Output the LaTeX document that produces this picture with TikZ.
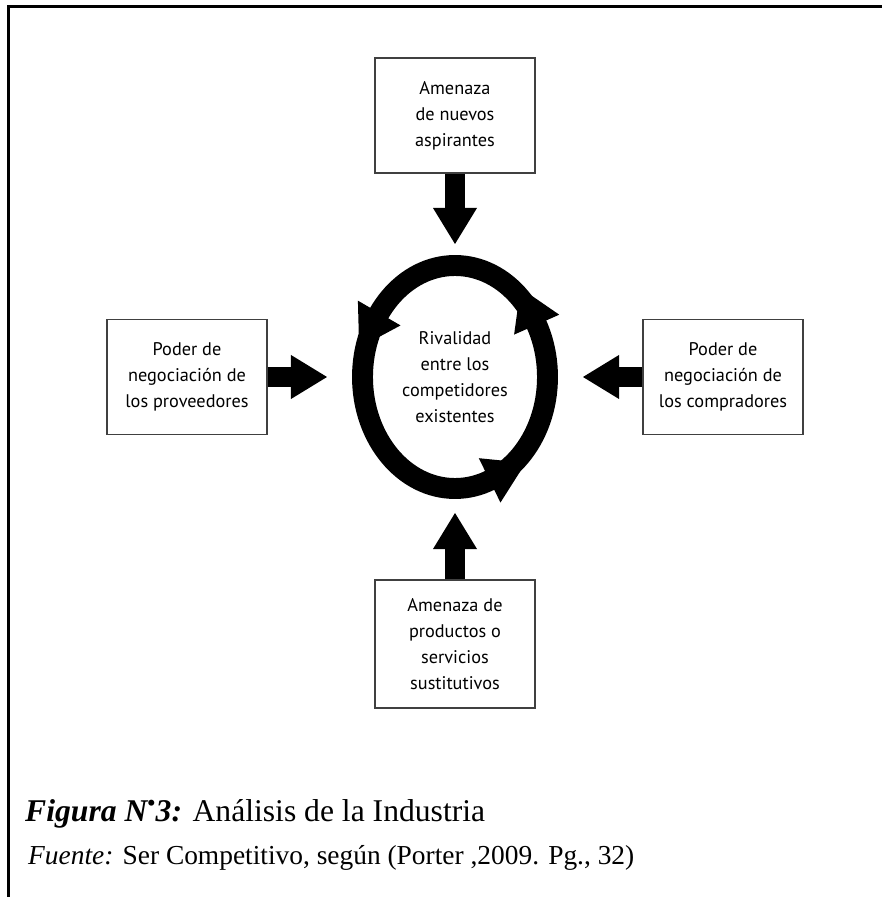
\documentclass[tikz,border=0pt]{standalone}
\usepackage{fontspec}
\setmainfont{Liberation Serif}
\newfontfamily\cajafont{PT Sans}
\usetikzlibrary{calc, positioning, arrows.meta, shapes.geometric}

\begin{document}
\begin{tikzpicture}[
    fuerza/.style={draw=black!75, line width=1.2pt, minimum width=4.8cm,
        minimum height=3.45cm, inner sep=0pt, align=center,
        font=\cajafont\fontsize{15.6}{22.1}\selectfont},
    empuje/.style={line width=0.6cm,
        -{Triangle[length=1.08cm, width=1.32cm, line width=0pt]}}
]

    % =================================================================
    % 1. PARAMETROS
    % =================================================================
    \def\ra{2.775}   % semieje horizontal del anillo
    \def\rb{3.345}   % semieje vertical del anillo
    \def\hw{0.74}    % media anchura de las puntas del anillo
    \def\hl{1.2}     % largo de las puntas del anillo

    \useasboundingbox (-13.65,-15.6) rectangle (12.78,11.31);

    % Marco (arriba e izquierda)
    \draw[line width=2.55pt] (-13.395,-15.7) -- (-13.395,11.115) -- (12.9,11.115);

    % =================================================================
    % 2. ANILLO CENTRAL
    % =================================================================
    \node[ellipse, draw, line width=17.86pt, minimum width=2*\ra cm,
          minimum height=2*\rb cm, inner sep=0pt, outer sep=0pt, align=center,
          font=\cajafont\fontsize{15.6}{22.1}\selectfont]
          (rival) at (0,0) {Rivalidad\\entre los\\competidores\\existentes};

    % Puntas de flecha sobre el anillo (sentido antihorario)
    \foreach \t in {145, 28, -68} {
        \pgfmathsetmacro{\ux}{-\ra*sin(\t)}
        \pgfmathsetmacro{\uy}{\rb*cos(\t)}
        \pgfmathsetmacro{\ul}{veclen(\ux,\uy)}
        \coordinate (B) at (\t:\ra cm and \rb cm);
        \fill ($(B)+({-\uy/\ul*\hw},{\ux/\ul*\hw})$)
            -- ($(B)+({\uy/\ul*\hw},{-\ux/\ul*\hw})$)
            -- ($(B)+({\ux/\ul*\hl},{\uy/\ul*\hl})$) -- cycle;
    }

    % =================================================================
    % 3. CUATRO FUERZAS
    % =================================================================
    \node[fuerza] (nuevos) at (0,7.845) {Amenaza\\de nuevos\\aspirantes};
    \node[fuerza] (prov) at (-8.04,0) {Poder de\\negociación de\\los proveedores};
    \node[fuerza] (comp) at (8.04,0) {Poder de\\negociación de\\los compradores};
    \node[fuerza, minimum height=3.85cm] (sust) at (0,-8.01)
        {Amenaza de\\productos o\\servicios\\sustitutivos};

    \draw[empuje, shorten >=0.645cm] (nuevos) -- (rival);
    \draw[empuje, shorten >=0.735cm] (sust) -- (rival);
    \draw[empuje, shorten >=1.065cm] (prov) -- (rival);
    \draw[empuje, shorten >=1.065cm] (comp) -- (rival);

    % =================================================================
    % 4. LEYENDA
    % =================================================================
    \node[anchor=base west, inner sep=0pt, font=\fontsize{27}{30}\selectfont]
        (titulo) at (-12.9,-13.32)
        {\textbf{\textit{Figura N\textsuperscript{•}3:}} Análisis de la Industria};
    \node[anchor=base west, inner sep=0pt, font=\fontsize{23.4}{26}\selectfont]
        (fuente) at (-12.81,-14.62)
        {\textit{Fuente:} Ser Competitivo, según (Porter ,2009. Pg., 32)};

\end{tikzpicture}
\end{document}
